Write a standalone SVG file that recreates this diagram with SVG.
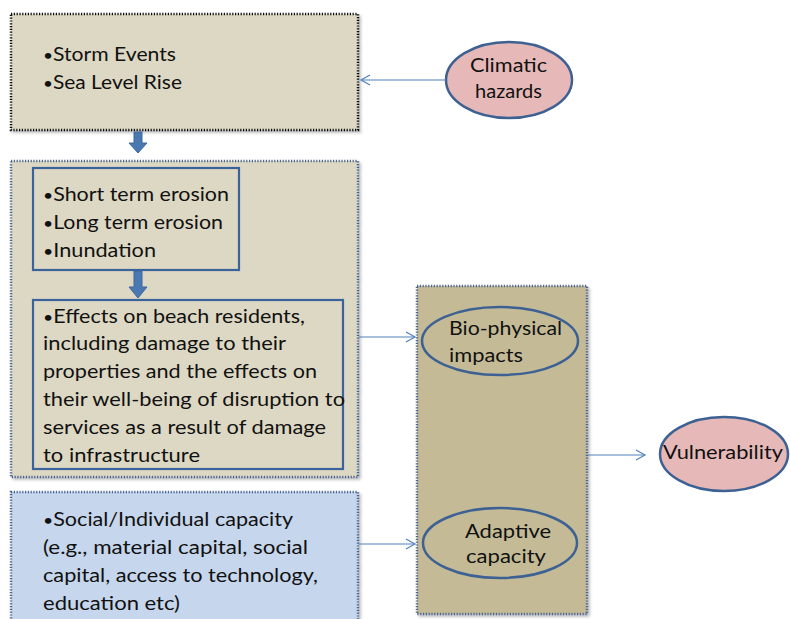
<svg xmlns="http://www.w3.org/2000/svg" width="790" height="619" viewBox="0 0 790 619">
<defs>
<style>
text{font-family:Lato,"Open Sans","Liberation Sans",sans-serif;font-size:19.5px;fill:#111}
.b{font-size:16px}
.box{fill:#ddd8c3;stroke:#4a6590;stroke-width:2.5;stroke-dasharray:1.2 1.6}
.boxk{fill:#ddd8c3;stroke:#111;stroke-width:2.5;stroke-dasharray:1.2 1.6}
.inner{fill:none;stroke:#3a629b;stroke-width:2.2}
.ell{stroke:#3d6193;stroke-width:2.5}
.con{stroke:#4f81bd;stroke-width:1.2;fill:none}
</style>
<marker id="open" markerWidth="12" markerHeight="12" refX="10" refY="6" orient="auto" markerUnits="userSpaceOnUse">
<path d="M1,1 L10,6 L1,11" fill="none" stroke="#4f81bd" stroke-width="1.2"/>
</marker>
<filter id="sh" x="-5%" y="-5%" width="110%" height="110%"><feDropShadow dx="2" dy="2" stdDeviation="1.5" flood-color="#000" flood-opacity="0.3"/></filter>
</defs>
<g id="hazards-box">
<rect class="boxk" x="11" y="14" width="347" height="116" filter="url(#sh)"/>
<text x="43" y="61" textLength="133" lengthAdjust="spacingAndGlyphs"><tspan class="b">•</tspan>Storm Events</text>
<text x="43" y="89" textLength="139" lengthAdjust="spacingAndGlyphs"><tspan class="b">•</tspan>Sea Level Rise</text>
</g>
<g id="impacts-box">
<rect class="box" x="11" y="161" width="347" height="316" filter="url(#sh)"/>
</g>
<g id="erosion">
<rect class="inner" x="33" y="168" width="206" height="102"/>
<text x="43" y="201" textLength="186" lengthAdjust="spacingAndGlyphs"><tspan class="b">•</tspan>Short term erosion</text>
<text x="43" y="229" textLength="180" lengthAdjust="spacingAndGlyphs"><tspan class="b">•</tspan>Long term erosion</text>
<text x="43" y="257" textLength="113" lengthAdjust="spacingAndGlyphs"><tspan class="b">•</tspan>Inundation</text>
</g>
<g id="effects">
<rect class="inner" x="33" y="300" width="310" height="169"/>
<text x="43" y="323" textLength="262" lengthAdjust="spacingAndGlyphs"><tspan class="b">•</tspan>Effects on beach residents,</text>
<text x="43" y="350" textLength="243" lengthAdjust="spacingAndGlyphs">including damage to their</text>
<text x="43" y="378" textLength="274" lengthAdjust="spacingAndGlyphs">properties and the effects on</text>
<text x="43" y="406" textLength="302" lengthAdjust="spacingAndGlyphs">their well-being of disruption to</text>
<text x="43" y="434" textLength="283" lengthAdjust="spacingAndGlyphs">services as a result of damage</text>
<text x="43" y="462" textLength="157" lengthAdjust="spacingAndGlyphs">to infrastructure</text>
</g>
<g id="social-box">
<rect x="11" y="492" width="347" height="132" fill="#c6d6ec" stroke="#4a6590" stroke-width="2.5" stroke-dasharray="1.2 1.6" filter="url(#sh)"/>
<text x="43" y="526" textLength="250" lengthAdjust="spacingAndGlyphs"><tspan class="b">•</tspan>Social/Individual capacity</text>
<text x="43" y="554" textLength="265" lengthAdjust="spacingAndGlyphs">(e.g., material capital, social</text>
<text x="43" y="582" textLength="275" lengthAdjust="spacingAndGlyphs">capital, access to technology,</text>
<text x="43" y="610" textLength="137" lengthAdjust="spacingAndGlyphs">education etc)</text>
</g>
<g id="right-box">
<rect class="box" x="417" y="286" width="170" height="328" style="fill:#c4bb96" filter="url(#sh)"/>
</g>
<g id="biophysical">
<ellipse class="ell" cx="500" cy="341" rx="78" ry="34" fill="none"/>
<text x="449" y="335" textLength="113" lengthAdjust="spacingAndGlyphs">Bio-physical</text>
<text x="449" y="362" textLength="74" lengthAdjust="spacingAndGlyphs">impacts</text>
</g>
<g id="adaptive">
<ellipse class="ell" cx="500" cy="543" rx="77" ry="35" fill="none"/>
<text x="465" y="538" textLength="86" lengthAdjust="spacingAndGlyphs">Adaptive</text>
<text x="466" y="563" textLength="80" lengthAdjust="spacingAndGlyphs">capacity</text>
</g>
<g id="climatic">
<ellipse class="ell" cx="509" cy="80" rx="63" ry="38" fill="#e6b9b8"/>
<text x="470" y="72" textLength="77" lengthAdjust="spacingAndGlyphs">Climatic</text>
<text x="475" y="98" textLength="67" lengthAdjust="spacingAndGlyphs">hazards</text>
</g>
<g id="vulnerability">
<ellipse class="ell" cx="724" cy="454" rx="64" ry="37" fill="#e6b9b8"/>
<text x="663" y="459" textLength="120" lengthAdjust="spacingAndGlyphs">Vulnerability</text>
</g>
<g id="connectors">
<path class="con" d="M446,80 H361" marker-end="url(#open)"/>
<path class="con" d="M359,337 H415" marker-end="url(#open)"/>
<path class="con" d="M359,544 H415" marker-end="url(#open)"/>
<path class="con" d="M588,455 H645" marker-end="url(#open)"/>
<path d="M134,132 H142 V143 H147 L138,153 L129,143 H134 Z" fill="#4a78b0" stroke="#3f67a0" stroke-width="1"/>
<path d="M134,271 H142 V287 H147 L138,298 L129,287 H134 Z" fill="#4a78b0" stroke="#3f67a0" stroke-width="1"/>
</g>
</svg>
